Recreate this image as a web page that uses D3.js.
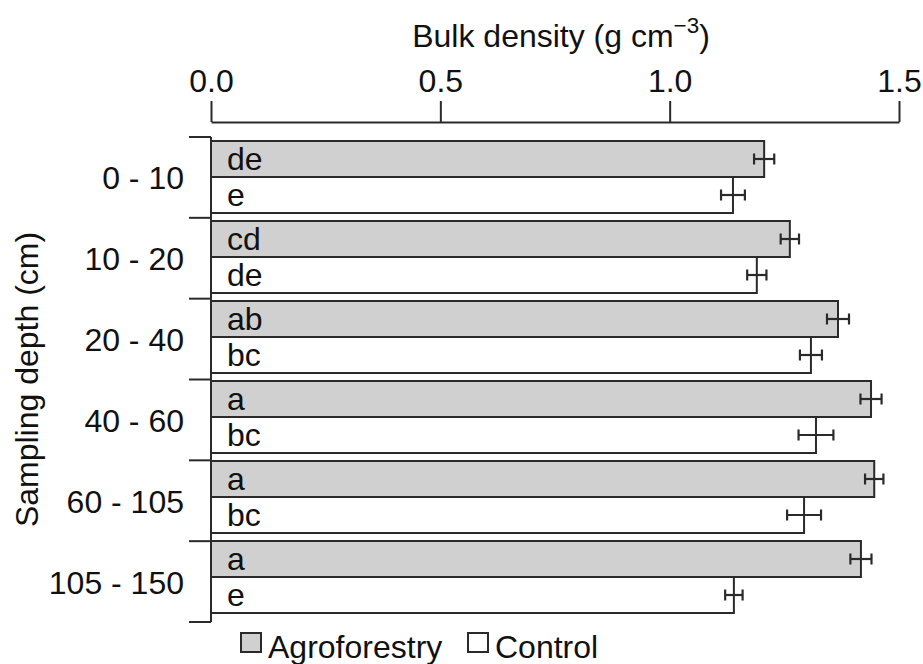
<!DOCTYPE html>
<html>
<head>
<meta charset="utf-8">
<script src="https://cdn.jsdelivr.net/npm/d3@7"></script>
<style>
  html, body { margin: 0; padding: 0; background: #fff; }
  svg { display: block; }
  text { font-family: "Liberation Sans", Arial, sans-serif; fill: #111; }
</style>
</head>
<body>
<svg id="chart" width="923" height="664"></svg>
<script>
// ---- data ----
const depths = ["0 - 10", "10 - 20", "20 - 40", "40 - 60", "60 - 105", "105 - 150"];
const seriesNames = ["Agroforestry", "Control"];
const agroValues = [1.206, 1.262, 1.367, 1.439, 1.446, 1.417];
const agroErrors = [0.022, 0.020, 0.024, 0.023, 0.020, 0.023];
const agroLetters = ["de", "cd", "ab", "a", "a", "a"];
const controlValues = [1.138, 1.190, 1.308, 1.319, 1.293, 1.140];
const controlErrors = [0.026, 0.021, 0.024, 0.038, 0.037, 0.019];
const controlLetters = ["e", "de", "bc", "bc", "bc", "e"];
const xTicks = [0, 0.5, 1.0, 1.5];

const fills = { "Agroforestry": "#d0d0d0", "Control": "#ffffff" };
const stroke = "#2a2a2a";

const rows = [];
depths.forEach((d, i) => {
  rows.push({ depth: d, series: "Agroforestry", value: agroValues[i], err: agroErrors[i], letter: agroLetters[i] });
  rows.push({ depth: d, series: "Control", value: controlValues[i], err: controlErrors[i], letter: controlLetters[i] });
});

const svg = d3.select("#chart");
const FS = 32;

// ---- scales ----
const x = d3.scaleLinear().domain([0, 1.5]).range([211, 899]);
const yGroup = d3.scaleBand().domain(depths).range([141, 613]).paddingInner(0.1).paddingOuter(0);
const ySeries = d3.scaleBand().domain(seriesNames).range([0, yGroup.bandwidth()]).padding(0);
const yAxisBand = d3.scaleBand().domain(depths).range([137, 622]).padding(0);

// ---- top axis ----
const axisY = 122;
const gx = svg.append("g")
  .attr("transform", `translate(0,${axisY})`)
  .call(d3.axisTop(x).tickValues(xTicks).tickFormat(d3.format(".1f")).tickSize(21).tickSizeOuter(0).tickPadding(9));
gx.select(".domain").attr("stroke", stroke).attr("stroke-width", 2);
gx.selectAll(".tick line").attr("stroke", stroke).attr("stroke-width", 2);
gx.selectAll(".tick text").attr("font-size", FS).attr("font-family", "Liberation Sans, Arial, sans-serif").attr("fill", "#111");

// x title with superscript
const title = svg.append("text")
  .attr("x", 561).attr("y", 47)
  .attr("text-anchor", "middle")
  .attr("font-size", FS);
title.append("tspan").text("Bulk density (g cm");
title.append("tspan").attr("font-size", FS * 0.7).attr("dy", -14).text("\u22123");
title.append("tspan").attr("dy", 14).text(")");

// ---- left bracket axis ----
const axL = svg.append("g");
const rangeL = yAxisBand.range();
axL.append("line")
  .attr("x1", 211).attr("x2", 211)
  .attr("y1", rangeL[0]).attr("y2", rangeL[1])
  .attr("stroke", stroke).attr("stroke-width", 2);
const boundaries = depths.map(d => yAxisBand(d)).concat([rangeL[1]]);
axL.selectAll("line.tk").data(boundaries).join("line")
  .attr("class", "tk")
  .attr("x1", 189).attr("x2", 211)
  .attr("y1", d => d).attr("y2", d => d)
  .attr("stroke", stroke).attr("stroke-width", 2);
axL.selectAll("text.lbl").data(depths).join("text")
  .attr("class", "lbl")
  .attr("x", 184)
  .attr("y", d => yAxisBand(d) + yAxisBand.bandwidth() / 2 + 12)
  .attr("text-anchor", "end")
  .attr("font-size", FS)
  .text(d => d);

svg.append("text")
  .attr("transform", `translate(38,${(rangeL[0] + rangeL[1]) / 2}) rotate(-90)`)
  .attr("text-anchor", "middle")
  .attr("font-size", FS)
  .text("Sampling depth (cm)");

// ---- bars ----
const barY = r => yGroup(r.depth) + ySeries(r.series);
const bh = ySeries.bandwidth();

svg.append("g").selectAll("rect").data(rows).join("rect")
  .attr("x", x(0))
  .attr("y", barY)
  .attr("width", r => x(r.value) - x(0))
  .attr("height", bh)
  .attr("fill", r => fills[r.series])
  .attr("stroke", stroke)
  .attr("stroke-width", 2);

// letters
svg.append("g").selectAll("text").data(rows).join("text")
  .attr("x", x(0) + 16)
  .attr("y", r => barY(r) + bh / 2 + 11)
  .attr("font-size", FS)
  .text(r => r.letter);

// error bars
const eg = svg.append("g").attr("stroke", stroke).attr("stroke-width", 2.2);
const capH = 5.5;
rows.forEach(r => {
  const cy = barY(r) + bh / 2;
  const x1 = x(r.value - r.err), x2 = x(r.value + r.err);
  eg.append("line").attr("x1", x1).attr("x2", x2).attr("y1", cy).attr("y2", cy);
  eg.append("line").attr("x1", x1).attr("x2", x1).attr("y1", cy - capH).attr("y2", cy + capH);
  eg.append("line").attr("x1", x2).attr("x2", x2).attr("y1", cy - capH).attr("y2", cy + capH);
});

// ---- legend ----
const legendItems = [
  { name: "Agroforestry", x: 241 },
  { name: "Control", x: 468 }
];
const lg = svg.append("g");
legendItems.forEach(it => {
  lg.append("rect")
    .attr("x", it.x).attr("y", 633)
    .attr("width", 20).attr("height", 19)
    .attr("fill", fills[it.name])
    .attr("stroke", stroke).attr("stroke-width", 2);
  lg.append("text")
    .attr("x", it.x + 27).attr("y", 658)
    .attr("font-size", FS)
    .text(it.name);
});
</script>
</body>
</html>
